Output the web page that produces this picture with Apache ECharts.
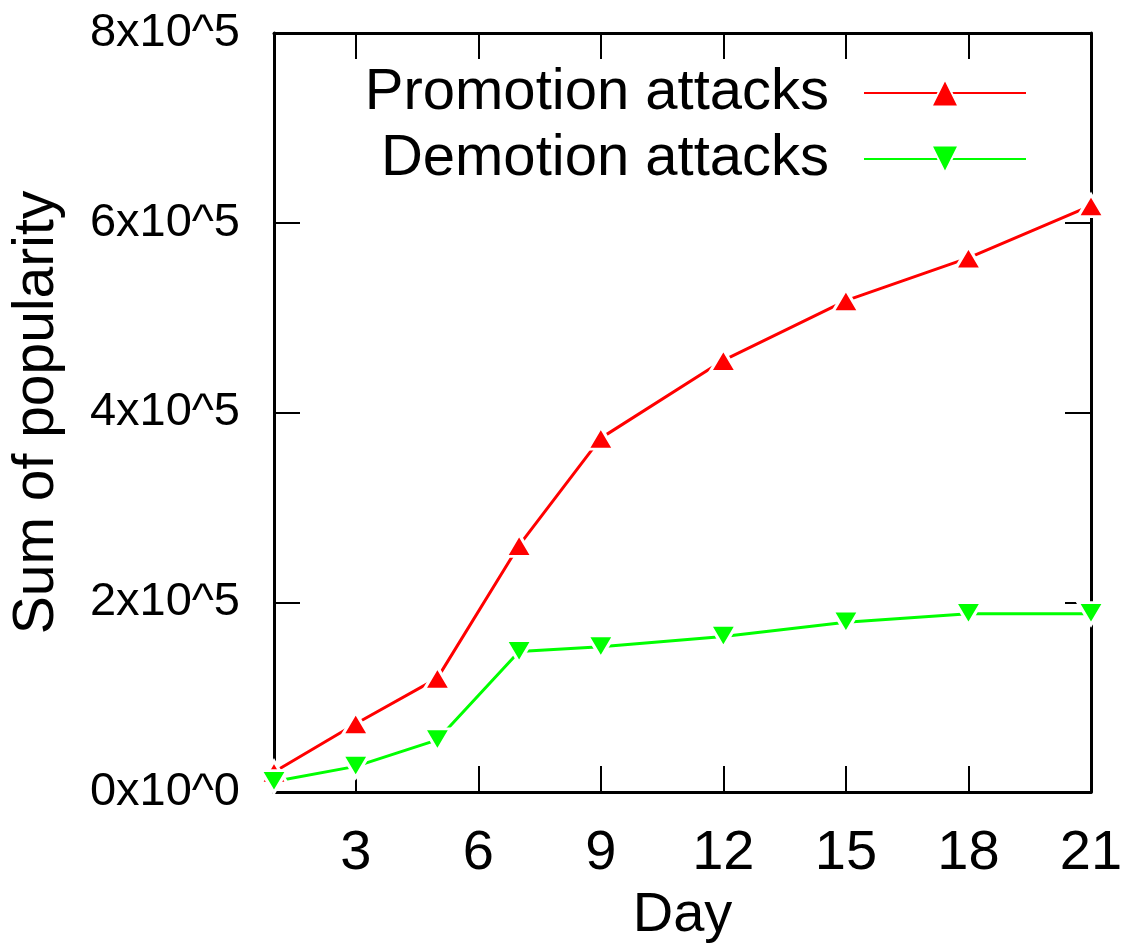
<!DOCTYPE html>
<html>
<head>
<meta charset="utf-8">
<script src="https://cdn.jsdelivr.net/npm/echarts@6/dist/echarts.min.js"></script>
<style>
  html, body { margin: 0; padding: 0; background: #fff; }
  #chart { width: 1130px; height: 947px; }
</style>
</head>
<body>
<div id="chart"></div>
<script>
var days = [1, 3, 5, 7, 9, 12, 15, 18, 21];
var promotion = [21000, 72000, 120000, 260000, 373000, 455000, 518000, 563000, 618000];
var demotion = [11000, 27000, 55000, 148000, 153000, 164000, 179000, 188000, 188000];
var xTicks = [3, 6, 9, 12, 15, 18, 21];
var yTicks = [0, 200000, 400000, 600000, 800000];

var dom = document.getElementById("chart");
var myChart = echarts.init(dom);

var font = "Liberation Sans";
var downTri = 'path://M0,0 L2,0 L1,1.7 Z';

function pairs(vals) {
    return days.map(function (d, i) { return [d, vals[i]]; });
}

var tickStyle = { show: true, inside: true, length: 26, lineStyle: { color: '#000', width: 2 } };
var lineStyle = { show: true, onZero: false, lineStyle: { color: '#000', width: 3 } };

function legendBox(name, top) {
    return {
        data: [name],
        right: 103, top: top, padding: 0,
        align: 'right', selectedMode: false,
        itemWidth: 162, itemHeight: 34,
        textStyle: { fontFamily: font, fontSize: 58, color: '#000', lineHeight: 60, padding: [0, 30, 0, 0] }
    };
}

var option = {
    animation: false,
    backgroundColor: '#fff',
    textStyle: { fontFamily: font },
    grid: { left: 274, right: 39, top: 33, bottom: 155, containLabel: false, outerBoundsMode: 'none' },
    legend: [
        legendBox('Promotion attacks', 63),
        legendBox('Demotion attacks', 129)
    ],
    xAxis: [
        {
            type: 'value', position: 'bottom', min: 1, max: 21,
            name: 'Day', nameLocation: 'middle', nameGap: 96,
            nameTextStyle: { fontFamily: font, fontSize: 56, color: '#000' },
            axisLine: lineStyle,
            axisTick: Object.assign({ customValues: xTicks }, tickStyle),
            axisLabel: { customValues: xTicks, margin: 34, fontFamily: font, fontSize: 56, color: '#000' },
            splitLine: { show: false }
        },
        {
            type: 'value', position: 'top', min: 1, max: 21,
            axisLine: lineStyle,
            axisTick: Object.assign({ customValues: xTicks }, tickStyle),
            axisLabel: { show: false },
            splitLine: { show: false }
        }
    ],
    yAxis: [
        {
            type: 'value', position: 'left', min: 0, max: 800000, interval: 200000,
            name: 'Sum of popularity', nameLocation: 'middle', nameGap: 208,
            nameTextStyle: { fontFamily: font, fontSize: 57, color: '#000' },
            axisLine: lineStyle,
            axisTick: tickStyle,
            axisLabel: {
                margin: 34, fontFamily: font, fontSize: 47, color: '#000',
                formatter: function (v) { return v === 0 ? '0x10^0' : (v / 100000) + 'x10^5'; }
            },
            splitLine: { show: false }
        },
        {
            type: 'value', position: 'right', min: 0, max: 800000, interval: 200000,
            axisLine: lineStyle,
            axisTick: tickStyle,
            axisLabel: { show: false },
            splitLine: { show: false }
        }
    ],
    series: [
        {
            name: 'Promotion attacks', type: 'line',
            data: pairs(promotion),
            symbol: 'triangle', symbolSize: [26, 22],
            lineStyle: { color: '#ff0000', width: 3 },
            itemStyle: { color: '#ff0000', borderColor: '#fff', borderWidth: 3 }
        },
        {
            name: 'Demotion attacks', type: 'line',
            data: pairs(demotion),
            symbol: downTri, symbolSize: [26, 22],
            lineStyle: { color: '#00ff00', width: 3 },
            itemStyle: { color: '#00ff00', borderColor: '#fff', borderWidth: 3 }
        }
    ]
};

myChart.setOption(option);
</script>
</body>
</html>
